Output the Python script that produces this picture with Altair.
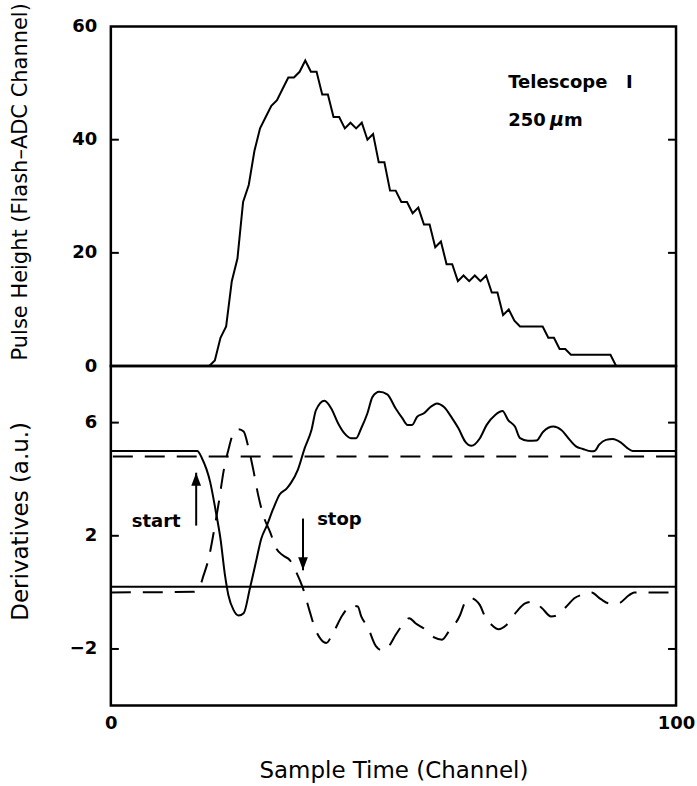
import altair as alt
import pandas as pd

# ---------------------------------------------------------------- data
# Flash-ADC pulse height, one sample per channel starting at channel 17
pulse_first_channel = 17.4
pulse_values = [0, 1, 5, 7, 15, 19, 29, 32, 38, 42,
                44, 46, 47, 49, 51, 51, 52, 54, 52, 52,
                48, 48, 44, 44, 42, 43, 42, 43, 40, 41,
                36, 36, 31, 31, 29, 29, 27, 28, 25, 25,
                21, 22, 18, 18, 15, 16, 15, 16, 15, 16,
                13, 13, 9, 10, 8, 7, 7, 7, 7, 7,
                5, 5, 3, 3, 2, 2, 2, 2, 2, 2, 2, 2, 0]

# first derivative (offset by +5) : solid curve
first_deriv_t = [0, 15.3, 16.1, 17.6, 18.5, 19.4, 20.2, 20.8, 21.7, 22.6, 23.5, 24.6,
                 25.8, 26.6, 27.6, 28.7, 29.9, 31.1, 31.9, 33.1, 34.3, 35.5, 36.3,
                 37.8, 39.0, 40.2, 41.3, 42.5, 43.4, 44.3, 45.4, 46.3, 47.5, 48.9,
                 50.4, 51.6, 52.5, 53.3, 54.2, 55.4, 56.6, 57.7, 58.9, 60.4, 61.5,
                 62.7, 63.8, 65.3, 66.5, 68.0, 69.3, 70.3, 71.5, 72.4, 73.8, 75.3,
                 76.5, 78.3, 79.7, 81.2, 82.3, 83.5, 85.0, 85.6, 86.4, 87.6, 88.8,
                 90.2, 91.4, 92.3, 100]
first_deriv_v = [5.0, 5.0, 4.75, 3.88, 2.94, 1.89, 0.6, -0.1, -0.62, -0.82, -0.74, 0.14,
                 1.19, 1.89, 2.36, 2.94, 3.47, 3.67, 3.88, 4.34, 5.1, 5.74, 6.44,
                 6.77, 6.5, 5.98, 5.63, 5.45, 5.45, 5.8, 6.33, 6.91, 7.09, 7.0,
                 6.5, 6.15, 5.92, 5.92, 6.21, 6.33, 6.56, 6.68, 6.56, 6.15, 5.8,
                 5.33, 5.18, 5.45, 5.92, 6.27, 6.41, 6.09, 5.86, 5.45, 5.36, 5.37,
                 5.68, 5.86, 5.74, 5.39, 5.16, 5.07, 4.99, 5.0, 5.22, 5.39, 5.42,
                 5.3, 5.1, 5.0, 5.0]

# second derivative : dashed curve
second_deriv_t = [0, 14.7, 15.6, 16.4, 17.3, 18.2, 19.1, 20.0, 20.8, 21.7, 22.6, 23.5,
                  24.3, 25.2, 26.1, 27.0, 28.2, 29.3, 30.5, 31.7, 32.8, 34.0, 35.2,
                  36.1, 37.2, 38.1, 39.3, 41.0, 42.5, 43.7, 44.3, 45.4, 46.9, 48.1,
                  49.2, 50.4, 51.6, 52.8, 53.9, 55.7, 57.2, 58.6, 59.8, 61.8, 62.7,
                  63.6, 64.5, 65.3, 66.2, 67.4, 68.6, 70.0, 71.8, 73.3, 74.7, 76.2,
                  77.9, 78.8, 80.6, 82.0, 83.5, 85.0, 86.7, 88.2, 89.7, 91.7, 92.6, 100]
second_deriv_v = [0.0, 0.02, 0.14, 0.6, 1.19, 2.12, 3.18, 4.34, 5.04, 5.63, 5.77, 5.69,
                  5.16, 4.34, 3.41, 2.71, 2.12, 1.54, 1.3, 1.13, 0.72, 0.14, -0.68,
                  -1.26, -1.67, -1.79, -1.44, -0.8, -0.47, -0.5, -0.85, -1.2, -1.9, -2.06,
                  -1.9, -1.5, -1.15, -0.91, -1.09, -1.32, -1.59, -1.67, -1.38, -0.8, -0.33,
                  -0.19, -0.27, -0.45, -0.85, -1.15, -1.3, -1.15, -0.68, -0.39, -0.33, -0.54,
                  -0.85, -0.82, -0.5, -0.21, -0.07, 0.0, -0.24, -0.39, -0.39, -0.1, 0.0, 0.0]

start_threshold = 4.8   # dashed level, crossed by the first derivative
stop_threshold = 0.2    # solid level, crossed by the second derivative

top_ticks = [0, 20, 40, 60]
bottom_ticks = [-2, 2, 6]
x_ticks = [0, 100]

# ---------------------------------------------------------------- layout
W, H = 566, 340
TICK = 8
FONT = "DejaVu Sans"
DASH = [20, 12]
LABEL_SIZE = 18

x_scale = alt.Scale(domain=[0, 100], nice=False)
top_scale = alt.Scale(domain=[0, 60], nice=False)
bot_scale = alt.Scale(domain=[-4, 8], nice=False)


def y_axis(values, title, size):
    return alt.Axis(values=values, title=title, ticks=False, domain=False, grid=False,
                    labelPadding=14, labelFontSize=LABEL_SIZE, labelFontWeight="bold",
                    labelColor="black", titleColor="black", labelFlush=False,
                    titleFontSize=size, titleFontWeight="normal",
                    titleX=-90, titleY=155, titleAngle=-90, titleBaseline="middle",
                    format="d")


TOP_Y_AXIS = y_axis(top_ticks, "Pulse Height (Flash\u2013ADC Channel)", 21)
BOT_Y_AXIS = y_axis(bottom_ticks, "Derivatives (a.u.)", 23)
BOT_X_AXIS = alt.Axis(values=x_ticks, title="Sample Time (Channel)", ticks=False,
                      domain=False, grid=False, labelPadding=9,
                      labelFontSize=LABEL_SIZE, labelFontWeight="bold",
                      labelColor="black", labelFlush=False,
                      titleColor="black", titleFontSize=23,
                      titleFontWeight="normal", titlePadding=27, format="d")


# every layer carries the same axis definition so the shared axes merge cleanly
def top_x(field):
    return alt.X(field, scale=x_scale, axis=None)


def top_y(field):
    return alt.Y(field, scale=top_scale, axis=TOP_Y_AXIS)


def bot_x(field):
    return alt.X(field, scale=x_scale, axis=BOT_X_AXIS)


def bot_y(field):
    return alt.Y(field, scale=bot_scale, axis=BOT_Y_AXIS)


def inner_ticks(values, yenc):
    df = pd.DataFrame({"v": values})
    left = alt.Chart(df).mark_rule(color="black", strokeWidth=2).encode(
        y=yenc("v:Q"), x=alt.value(0), x2=alt.value(TICK))
    right = alt.Chart(df).mark_rule(color="black", strokeWidth=2).encode(
        y=yenc("v:Q"), x=alt.value(W - TICK), x2=alt.value(W))
    return [left, right]


# ---------------------------------------------------------------- top panel
pulse_df = pd.DataFrame({
    "t": [0] + [pulse_first_channel + i for i in range(len(pulse_values))] + [100],
    "ph": [0] + pulse_values + [0],
})
pulse = alt.Chart(pulse_df).mark_line(color="black", strokeWidth=2).encode(
    x=top_x("t:Q"), y=top_y("ph:Q"))

labels_top = pd.DataFrame({
    "t": [70.3, 70.3, 80.2],
    "ph": [49.1, 42.5, 42.5],
    "txt": ["Telescope\u00a0\u00a0\u00a0I", "250", "m"],
})
top_text = alt.Chart(labels_top).mark_text(
    align="left", baseline="alphabetic", fontSize=18, fontWeight="bold", font=FONT,
    color="black").encode(x=top_x("t:Q"), y=top_y("ph:Q"), text="txt:N")
mu_text = alt.Chart(pd.DataFrame({"t": [77.7], "ph": [42.5], "txt": ["\u03bc"]})).mark_text(
    align="left", baseline="alphabetic", fontSize=19, fontWeight="bold",
    fontStyle="italic", font=FONT, color="black").encode(
    x=top_x("t:Q"), y=top_y("ph:Q"), text="txt:N")

top = alt.layer(pulse, top_text, mu_text, *inner_ticks([20, 40], top_y)).properties(
    width=W, height=H)

# ---------------------------------------------------------------- bottom panel
d1 = pd.DataFrame({"t": first_deriv_t, "v": first_deriv_v})
d2 = pd.DataFrame({"t": second_deriv_t, "v": second_deriv_v})

first_line = alt.Chart(d1).mark_line(color="black", strokeWidth=2,
                                     interpolate="monotone").encode(
    x=bot_x("t:Q"), y=bot_y("v:Q"))
second_line = alt.Chart(d2).mark_line(color="black", strokeWidth=2, strokeDash=DASH,
                                      interpolate="monotone").encode(
    x=bot_x("t:Q"), y=bot_y("v:Q"))

start_rule = alt.Chart(pd.DataFrame({"v": [start_threshold]})).mark_rule(
    color="black", strokeWidth=2, strokeDash=DASH).encode(y=bot_y("v:Q"))
stop_rule = alt.Chart(pd.DataFrame({"v": [stop_threshold]})).mark_rule(
    color="black", strokeWidth=2).encode(y=bot_y("v:Q"))

# arrows marking the start and stop crossings
arrows = pd.DataFrame({"t": [15.1, 34.0], "tail": [2.36, 2.61], "tip": [4.23, 0.78]})
shafts = alt.Chart(arrows).mark_rule(color="black", strokeWidth=2).encode(
    x=bot_x("t:Q"), y=bot_y("tail:Q"), y2="tip:Q")
head_up = alt.Chart(arrows.iloc[[0]]).mark_point(
    shape="M-0.75,1L0,-1L0.75,1Z", size=169, filled=True, color="black",
    opacity=1, yOffset=6.5).encode(x=bot_x("t:Q"), y=bot_y("tip:Q"))
head_down = alt.Chart(arrows.iloc[[1]]).mark_point(
    shape="M-0.75,-1L0,1L0.75,-1Z", size=169, filled=True, color="black",
    opacity=1, yOffset=-6.5).encode(x=bot_x("t:Q"), y=bot_y("tip:Q"))

bottom_labels = pd.DataFrame({"t": [3.7, 36.5], "v": [2.31, 2.38], "txt": ["start", "stop"]})
bottom_text = alt.Chart(bottom_labels).mark_text(
    align="left", baseline="alphabetic", fontSize=18, fontWeight="bold", font=FONT,
    color="black").encode(x=bot_x("t:Q"), y=bot_y("v:Q"), text="txt:N")

bottom = alt.layer(first_line, second_line, start_rule, stop_rule, shafts, head_up,
                   head_down, bottom_text,
                   *inner_ticks(bottom_ticks, bot_y)).properties(width=W, height=H)

# flush bounds keep the two panels touching
chart = (
    alt.vconcat(top, bottom, spacing=0, bounds="flush")
    .properties(padding={"left": 8, "top": 0, "right": 0, "bottom": 2})
    .configure(font=FONT)
    .configure_view(stroke="black", strokeWidth=2.5)
)

chart.save("out.html", embed_options={"renderer": "svg", "actions": False})
